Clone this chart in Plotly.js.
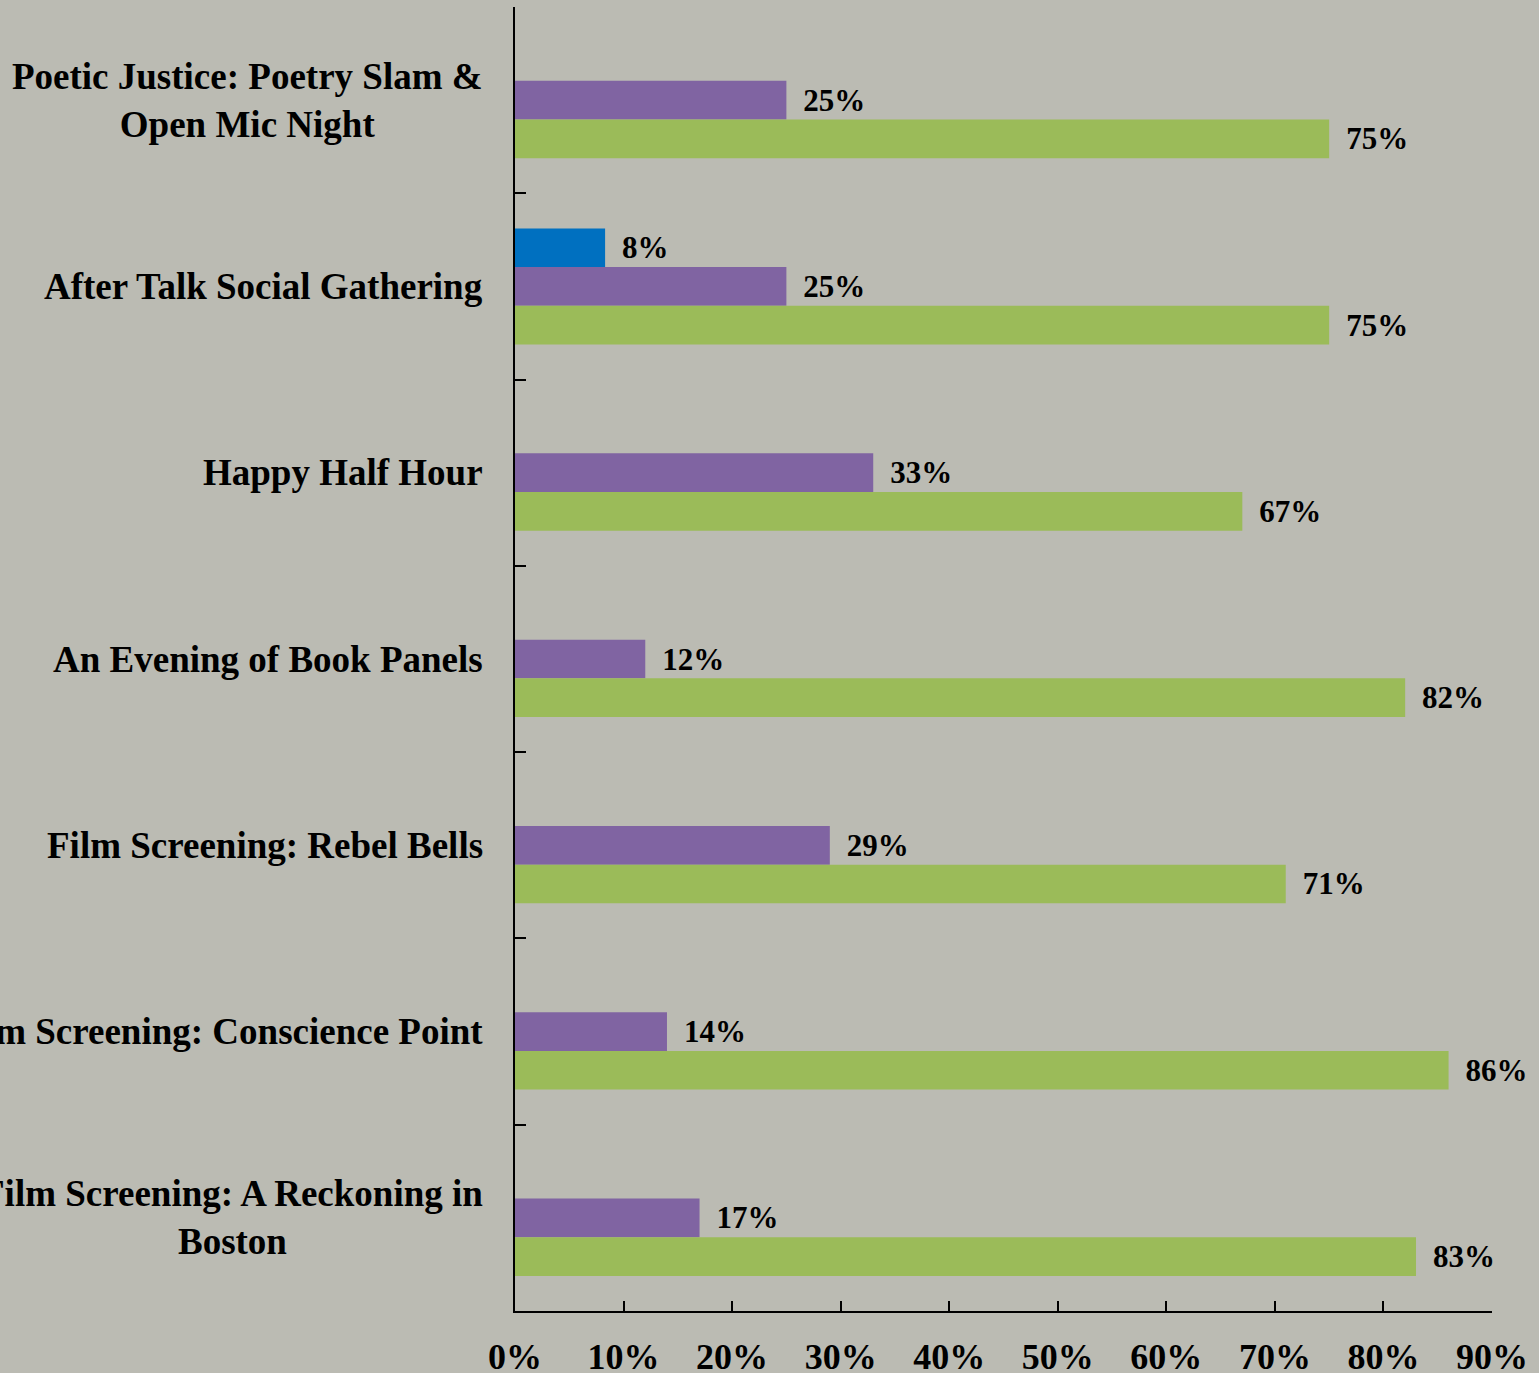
<!DOCTYPE html>
<html>
<head>
<meta charset="utf-8">
<script src="https://cdn.plot.ly/plotly-3.0.1.min.js"></script>
<style>
  html, body { margin: 0; padding: 0; background: #BBBBB3; }
  #chart { width: 1539px; height: 1373px; }
</style>
</head>
<body>
<div id="chart"></div>
<script>
// Categories (top to bottom)
const categories = [
  "Poetic Justice: Poetry Slam & Open Mic Night",
  "After Talk Social Gathering",
  "Happy Half Hour",
  "An Evening of Book Panels",
  "Film Screening: Rebel Bells",
  "Film Screening: Conscience Point",
  "Film Screening: A Reckoning in Boston"
];
// Displayed category labels (with line breaks as in the original)
const categoryLabels = [
  "Poetic Justice: Poetry Slam &<br>Open Mic Night",
  "After Talk Social Gathering",
  "Happy Half Hour",
  "An Evening of Book Panels",
  "Film Screening: Rebel Bells",
  "Film Screening: Conscience Point",
  "Film Screening: A Reckoning in<br>Boston"
];
// Series values (percent)
const seriesBlue   = [null, 8.3, null, null, null, null, null];
const seriesPurple = [25, 25, 33, 12, 29, 14, 17];
const seriesGreen  = [75, 75, 67, 82, 71, 86, 83];
// X tick values
const xTicks = [0, 10, 20, 30, 40, 50, 60, 70, 80, 90];

const FONT = "Liberation Serif, Times New Roman, serif";
const labelFont = { family: FONT, size: 31, color: "#000000", weight: 700 };

function barTrace(name, values, color) {
  return {
    type: "bar",
    orientation: "h",
    name: name,
    y: categories,
    x: values,
    marker: { color: color, line: { width: 0 } },
    texttemplate: "\u00a0\u2009%{x:.0f}%",
    textposition: "outside",
    textfont: labelFont,
    cliponaxis: false,
    hoverinfo: "skip"
  };
}

const data = [
  barTrace("Series 1", seriesBlue, "#0070C0"),
  barTrace("Series 2", seriesPurple, "#8064A2"),
  barTrace("Series 3", seriesGreen, "#9BBB59")
];

const annotations = categories.map((c, i) => ({
  x: 0, xref: "paper", xanchor: "right", xshift: -30,
  y: c, yref: "y", yanchor: "middle",
  text: categoryLabels[i],
  align: "center",
  showarrow: false,
  font: { family: FONT, size: 37, color: "#000000", weight: 700 }
}));

const layout = {
  width: 1539,
  height: 1373,
  paper_bgcolor: "#BBBBB3",
  plot_bgcolor: "#BBBBB3",
  margin: { l: 515, r: 47, t: 7, b: 62, pad: 0 },
  barmode: "group",
  bargap: 0.377,
  bargroupgap: 0,
  showlegend: false,
  font: { family: FONT, color: "#000000" },
  xaxis: {
    range: [0, 90],
    tickvals: xTicks,
    ticktext: xTicks.map(v => v + "%"),
    ticks: "inside",
    ticklen: 10,
    tickwidth: 2,
    tickcolor: "#000000",
    ticklabelstandoff: 13,
    showline: true,
    linewidth: 2,
    linecolor: "#000000",
    showgrid: false,
    zeroline: false,
    tickfont: { family: FONT, size: 36, color: "#000000", weight: 700 },
    fixedrange: true
  },
  yaxis: {
    type: "category",
    categoryorder: "array",
    categoryarray: categories,
    autorange: "reversed",
    tickson: "boundaries",
    ticks: "inside",
    ticklen: 11,
    tickwidth: 2,
    tickcolor: "#000000",
    showticklabels: false,
    showline: true,
    linewidth: 2,
    linecolor: "#000000",
    showgrid: false,
    zeroline: false,
    fixedrange: true
  },
  annotations: annotations
};

Plotly.newPlot("chart", data, layout, { displayModeBar: false, staticPlot: true });
</script>
</body>
</html>
